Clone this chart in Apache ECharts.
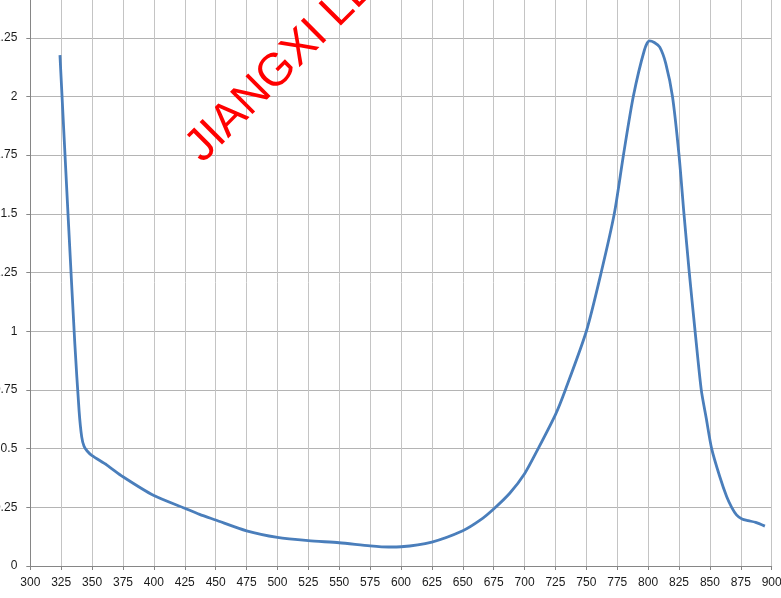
<!DOCTYPE html>
<html>
<head>
<meta charset="utf-8">
<script src="https://cdn.jsdelivr.net/npm/echarts@6/dist/echarts.min.js"></script>
<style>
html,body{margin:0;padding:0;background:#fff;}
#c{width:781px;height:598px;}
</style>
</head>
<body>
<div id="c"></div>
<script>
// wavelength (nm)
var wavelengths = [324, 331, 336, 339.5, 341.6, 343.5, 346, 350, 362, 375, 400, 425, 437, 450, 475, 500, 525, 550, 575, 590, 600, 625, 650, 664, 675, 688, 700, 711, 725, 733, 750, 762, 772.6, 780, 788, 797, 801, 805, 809.4, 814.3, 819.7, 825, 829, 833.3, 838, 843, 847, 851.4, 858, 863.6, 867.6, 871.5, 876, 881, 887, 894.5];
// absorbance
var absorbance = [2.176, 1.45, 0.95, 0.66, 0.55, 0.51, 0.49, 0.47, 0.43, 0.38, 0.30, 0.246, 0.22, 0.196, 0.150, 0.122, 0.108, 0.099, 0.086, 0.081, 0.082, 0.102, 0.150, 0.195, 0.243, 0.31, 0.393, 0.5, 0.645, 0.75, 1.0, 1.25, 1.5, 1.75, 2.0, 2.198, 2.237, 2.23, 2.21, 2.14, 2.0, 1.75, 1.5, 1.25, 1.0, 0.75, 0.63, 0.5, 0.38, 0.295, 0.25, 0.218, 0.2, 0.193, 0.186, 0.17];
var watermarkText = 'JIANGXI LEDS';

var seriesData = wavelengths.map(function (w, i) { return [w, absorbance[i]]; });

var chart = echarts.init(document.getElementById('c'), null, {renderer: 'canvas'});
chart.setOption({
  animation: false,
  backgroundColor: '#ffffff',
  grid: {left: 30.3, right: 9.3, top: -20.9, bottom: 32, containLabel: false, outerBoundsMode: 'none'},
  xAxis: {
    type: 'value', min: 300, max: 900, interval: 25,
    axisLine: {show: true, onZero: false, lineStyle: {color: '#868686', width: 1}},
    axisTick: {show: true, length: 4, lineStyle: {color: '#868686'}},
    axisLabel: {color: '#1a1a1a', fontFamily: 'Liberation Sans', fontSize: 12, margin: 11},
    splitLine: {show: true, lineStyle: {color: '#c4c4c4', width: 1}}
  },
  yAxis: {
    type: 'value', min: 0, max: 2.5, interval: 0.25,
    axisLine: {show: true, onZero: false, lineStyle: {color: '#868686', width: 1}},
    axisTick: {show: true, length: 4, lineStyle: {color: '#868686'}},
    axisLabel: {color: '#1a1a1a', fontFamily: 'Liberation Sans', fontSize: 12, margin: 13},
    splitLine: {show: true, lineStyle: {color: '#b4b4b4', width: 1}}
  },
  series: [{
    type: 'line',
    data: seriesData,
    smooth: 0.25,
    showSymbol: false,
    symbol: 'none',
    lineStyle: {color: '#4a7ebb', width: 2.8},
    z: 3
  }],
  graphic: [{
    type: 'text',
    x: 210, y: 171,
    rotation: Math.PI / 4,
    z: 10,
    style: {
      text: watermarkText,
      fill: '#ff0000',
      font: '46px "Liberation Sans"',
      textAlign: 'left',
      textVerticalAlign: 'bottom'
    }
  }]
});
</script>
</body>
</html>
